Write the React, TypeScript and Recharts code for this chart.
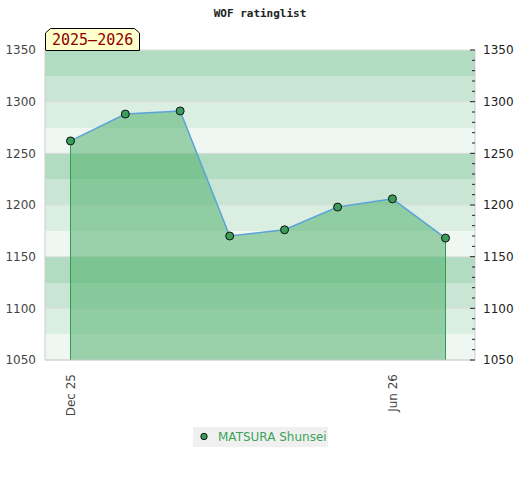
import React from "react";
import {
  ComposedChart,
  Area,
  XAxis,
  YAxis,
  CartesianGrid,
  ReferenceLine,
  Legend,
} from "recharts";

// monthly ratings, first of each month
const dates = [
  "2025-12-01",
  "2026-01-01",
  "2026-02-01",
  "2026-03-01",
  "2026-04-01",
  "2026-05-01",
  "2026-06-01",
  "2026-07-01",
];
const ratings = [1262, 1288, 1291, 1170, 1176, 1198, 1206, 1168];

const xTickDates = ["2025-12-01", "2026-06-01"];
const xTickLabels = ["Dec 25", "Jun 26"];

const yDomain = [1050, 1350];
const yTicks = [1050, 1100, 1150, 1200, 1250, 1300, 1350];
const yMinorTicks = [
  1050, 1060, 1070, 1080, 1090, 1100, 1110, 1120, 1130, 1140, 1150, 1160,
  1170, 1180, 1190, 1200, 1210, 1220, 1230, 1240, 1250, 1260, 1270, 1280,
  1290, 1300, 1310, 1320, 1330, 1340, 1350,
];
const bandEdges = [
  1050, 1075, 1100, 1125, 1150, 1175, 1200, 1225, 1250, 1275, 1300, 1325, 1350,
];

const seriesName = "MATSURA Shunsei";
const seasonLabel = "2025\u20132026";
const title = "WOF ratinglist";

const DAY = 86400000;
const origin = Date.parse(dates[0]);
const toDay = (d: string) => Math.round((Date.parse(d) - origin) / DAY);

const data = dates.map((d, i) => ({ t: toDay(d), rating: ratings[i] }));
const xTicks = xTickDates.map(toDay);

const FONT = "'DejaVu Sans', sans-serif";
const GREEN = "#3ca35c";
const BAND_COLORS = ["#b2dcc1", "#c8e6d3", "#dbeee2", "#eff7f2"];

const XTick = (props: any) => {
  const { x, y, payload } = props;
  const idx = xTicks.indexOf(payload.value);
  const ty = y + 12;
  return (
    <text
      x={x}
      y={ty}
      transform={`rotate(-90, ${x}, ${ty})`}
      textAnchor="end"
      dy="0.35em"
      fill="#444"
      fontSize={12}
      fontFamily={FONT}
    >
      {idx >= 0 ? xTickLabels[idx] : ""}
    </text>
  );
};

const RightTick = (props: any) => {
  const { x, y, payload } = props;
  const major = payload.value % 50 === 0;
  const axisX = x - 8;
  return (
    <g>
      <line
        x1={axisX - (major ? 5 : 3)}
        x2={axisX}
        y1={y}
        y2={y}
        stroke="#222"
        strokeWidth={1}
      />
      {major && (
        <text
          x={x}
          y={y}
          dy="0.35em"
          textAnchor="start"
          fill="#222"
          fontSize={12}
          fontFamily={FONT}
        >
          {payload.value}
        </text>
      )}
    </g>
  );
};

const Dot = (props: any) => {
  const { cx, cy } = props;
  if (cx == null || cy == null) return null;
  return <circle cx={cx} cy={cy} r={4} fill="#3a9d5a" stroke="#111" strokeWidth={1} />;
};

const LegendBox = () => (
  <div
    style={{
      background: "#f0f0f0",
      height: 20,
      width: 135,
      display: "flex",
      alignItems: "center",
      fontFamily: FONT,
      fontSize: 12,
      color: GREEN,
    }}
  >
    <svg width={25} height={20}>
      <circle cx={11} cy={9.5} r={3.2} fill="#3a9d5a" stroke="#111" strokeWidth={1} />
    </svg>
    <span>{seriesName}</span>
  </div>
);

// stripe boundaries for the background bands
const bandLines = (props: any) => {
  const s = props.yAxis && props.yAxis.scale;
  if (typeof s === "function") return bandEdges.map((v) => s(v));
  if (s && typeof s.map === "function") return bandEdges.map((v) => s.map(v));
  const { top, height } = props.offset;
  const [lo, hi] = yDomain;
  return bandEdges.map((v) => top + ((hi - v) / (hi - lo)) * height);
};

export default function App() {
  return (
    <div style={{ position: "absolute", left: 0, top: 0 }}>
      <ComposedChart
        width={520}
        height={480}
        data={data}
        margin={{ top: 50, right: 5, bottom: 70, left: 8 }}
      >
        <text
          x={260}
          y={17}
          textAnchor="middle"
          fontFamily="'DejaVu Sans Mono', monospace"
          fontWeight="bold"
          fontSize={11}
          fill="#222"
        >
          {title}
        </text>

        <XAxis
          dataKey="t"
          type="number"
          domain={["dataMin", "dataMax"]}
          padding={{ left: 25.5, right: 29.5 }}
          ticks={xTicks}
          interval={0}
          tick={<XTick />}
          tickLine={false}
          tickSize={0}
          height={50}
          axisLine={{ stroke: "#ccc" }}
        />
        <XAxis
          xAxisId="top"
          orientation="top"
          dataKey="t"
          type="number"
          domain={["dataMin", "dataMax"]}
          tick={false}
          tickLine={false}
          height={0}
          axisLine={{ stroke: "#ccc" }}
        />
        <YAxis
          yAxisId="left"
          domain={yDomain}
          ticks={yTicks}
          interval={0}
          width={37}
          tickLine={false}
          tickSize={0}
          tickMargin={9}
          axisLine={{ stroke: "#ccc" }}
          tick={{ fill: "#444", fontSize: 12, fontFamily: FONT }}
        />
        <YAxis
          yAxisId="right"
          orientation="right"
          type="number"
          domain={yDomain}
          allowDataOverflow
          ticks={yMinorTicks}
          interval={0}
          width={40}
          tickLine={false}
          tickSize={0}
          tickMargin={8}
          axisLine={{ stroke: "#ccc" }}
          tick={<RightTick />}
        />

        <CartesianGrid
          yAxisId="left"
          vertical={false}
          stroke="none"
          horizontalCoordinatesGenerator={bandLines}
          horizontalFill={BAND_COLORS}
          fillOpacity={1}
        />
        <CartesianGrid yAxisId="left" vertical={false} stroke="#dedede" />

        <Area
          yAxisId="left"
          dataKey="rating"
          name={seriesName}
          type="linear"
          fill="#45ab64"
          fillOpacity={0.5}
          stroke="#5ba3d8"
          strokeWidth={1.5}
          dot={<Dot />}
          activeDot={false}
          isAnimationActive={false}
        />
        <Area
          yAxisId="right"
          dataKey="rating"
          legendType="none"
          fill="none"
          stroke="none"
          dot={false}
          activeDot={false}
          isAnimationActive={false}
        />
        <ReferenceLine
          yAxisId="left"
          segment={[
            { x: data[0].t, y: ratings[0] },
            { x: data[0].t, y: yDomain[0] },
          ]}
          stroke="#2f9e52"
        />
        <ReferenceLine
          yAxisId="left"
          segment={[
            { x: data[data.length - 1].t, y: ratings[ratings.length - 1] },
            { x: data[data.length - 1].t, y: yDomain[0] },
          ]}
          stroke="#2f9e52"
        />

        <g>
          <path d="M45.5,50.5 L45.5,33 L50.5,28.5 L134.5,28.5 L139.5,33 L139.5,50.5 Z" fill="#ffffcc" stroke="#000" strokeWidth={1} />
          <text
            x={52}
            y={45}
            fontFamily="'DejaVu Sans Mono', monospace"
            fontSize={15}
            fill="#8b0000"
          >
            {seasonLabel}
          </text>
        </g>

        <Legend
          layout="horizontal"
          verticalAlign="middle"
          align="center"
          content={<LegendBox />}
          wrapperStyle={{ position: "absolute", left: 193, top: 427, width: 135, height: 20 }}
        />
      </ComposedChart>
    </div>
  );
}
